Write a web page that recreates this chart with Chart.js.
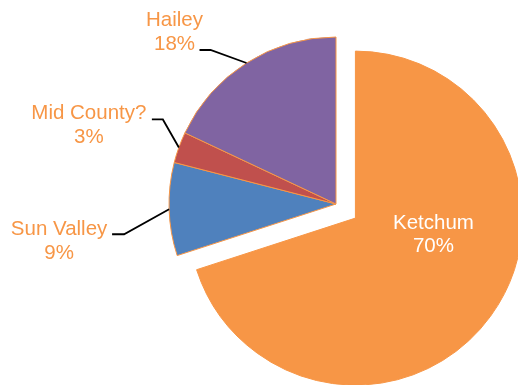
<!DOCTYPE html>
<html>
<head>
<meta charset="utf-8">
<script src="https://cdn.jsdelivr.net/npm/chart.js@4.4.0/dist/chart.umd.min.js"></script>
<style>
  html, body { margin: 0; padding: 0; background: #fff; }
  #wrap { width: 518px; height: 385px; position: relative; }
</style>
</head>
<body>
<div id="wrap"><canvas id="pie"></canvas></div>
<script>
const towns = ['Ketchum', 'Sun Valley', 'Mid County?', 'Hailey'];
const shares = [70, 9, 3, 18];
const sliceColors = ['#F79646', '#4F81BD', '#C0504D', '#8064A2'];

const PULL_OUT = 24;          // Ketchum slice is pulled away from the centre
const LABEL_COLOR = '#F79646';
const FONT = '20.5px "Liberation Sans", Arial, sans-serif';
const LINE_GAP = 24;

// outside labels: elbow offset from the rim point, horizontal run, text offset from line end
const leaders = [
  null,
  { elbow: [-45, 25], run: 12, text: [-53, 1] },
  { elbow: [-16, -28], run: 11, text: [-63, 0] },
  { elbow: [-36, -13], run: 11, text: [-25, -24] }
];
const insideText = [78, 11];   // Ketchum label, relative to its slice centre

const pullSlice = {
  id: 'pullSlice',
  afterDatasetUpdate(chart) {
    const arc = chart.getDatasetMeta(0).data[0];
    const mid = (arc.startAngle + arc.endAngle) / 2;
    arc.x += Math.cos(mid) * PULL_OUT;
    arc.y += Math.sin(mid) * PULL_OUT;
  }
};

const sliceLabels = {
  id: 'sliceLabels',
  afterDatasetsDraw(chart) {
    const ctx = chart.ctx;
    const meta = chart.getDatasetMeta(0);
    const total = shares.reduce((a, b) => a + b, 0);
    ctx.save();
    ctx.font = FONT;
    ctx.textAlign = 'center';
    ctx.textBaseline = 'alphabetic';
    meta.data.forEach((arc, i) => {
      const pct = Math.round(shares[i] / total * 100) + '%';
      const lead = leaders[i];
      if (!lead) {
        ctx.fillStyle = '#fff';
        const cx = arc.x + insideText[0], cy = arc.y + insideText[1];
        ctx.fillText(towns[i], cx, cy);
        ctx.fillText(pct, cx, cy + 23);
        return;
      }
      const mid = (arc.startAngle + arc.endAngle) / 2;
      const rx = arc.x + Math.cos(mid) * arc.outerRadius;
      const ry = arc.y + Math.sin(mid) * arc.outerRadius;
      const ex = rx + lead.elbow[0], ey = ry + lead.elbow[1];
      const lx = ex - lead.run;
      ctx.strokeStyle = '#000';
      ctx.lineWidth = 1.8;
      ctx.beginPath();
      ctx.moveTo(rx, ry);
      ctx.lineTo(ex, ey);
      ctx.lineTo(lx, ey);
      ctx.stroke();
      ctx.fillStyle = LABEL_COLOR;
      const tx = lx + lead.text[0], ty = ey + lead.text[1];
      ctx.fillText(towns[i], tx, ty);
      ctx.fillText(pct, tx, ty + LINE_GAP);
    });
    ctx.restore();
  }
};

new Chart(document.getElementById('pie'), {
  type: 'pie',
  data: {
    labels: towns,
    datasets: [{
      data: shares,
      backgroundColor: sliceColors,
      borderColor: '#F79646',
      borderWidth: 1,
      clip: false
    }]
  },
  options: {
    responsive: true,
    maintainAspectRatio: false,
    animation: false,
    events: [],
    radius: 167,
    layout: { padding: { left: 154, right: 0, top: 23, bottom: 0 } },
    plugins: {
      legend: { display: false },
      tooltip: { enabled: false }
    }
  },
  plugins: [pullSlice, sliceLabels]
});
</script>
</body>
</html>
